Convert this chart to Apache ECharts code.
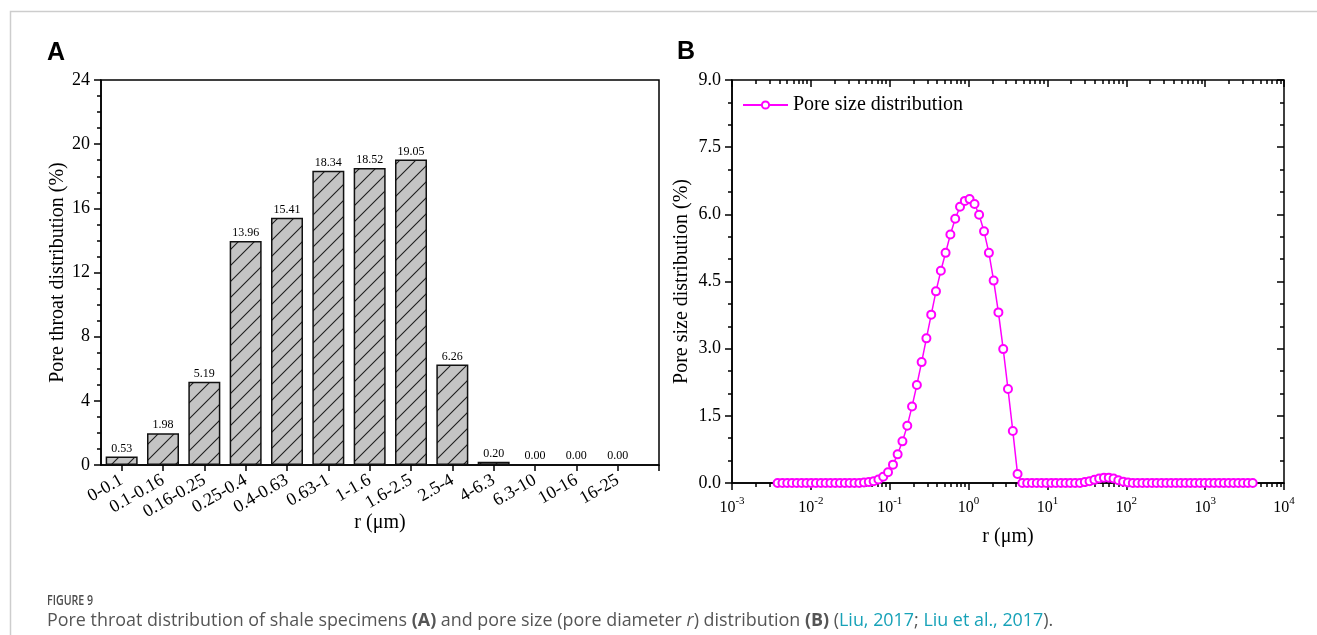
<!DOCTYPE html>
<html>
<head>
<meta charset="utf-8">
<script src="https://cdn.jsdelivr.net/npm/echarts@6/dist/echarts.min.js"></script>
<style>
  html, body { margin: 0; padding: 0; background: #fff; }
  #chart { width: 1317px; height: 635px; }
</style>
</head>
<body>
<div id="chart"></div>
<script>
// Panel A: pore throat radius classes (µm) and their share (%)
const throatClasses = ['0-0.1', '0.1-0.16', '0.16-0.25', '0.25-0.4', '0.4-0.63', '0.63-1',
  '1-1.6', '1.6-2.5', '2.5-4', '4-6.3', '6.3-10', '10-16', '16-25'];
const throatShares = [0.53, 1.98, 5.19, 13.96, 15.41, 18.34, 18.52, 19.05, 6.26, 0.20, 0.00, 0.00, 0.00];

// Panel B: pore size r (µm) and distribution (%)
const poreRadius = [
  0.00379, 0.00436, 0.00502, 0.00577, 0.00664, 0.00764, 0.00879, 0.0101, 0.0116, 0.0134,
  0.0154, 0.0177, 0.0204, 0.0234, 0.0270, 0.0310, 0.0357, 0.0411, 0.0472, 0.0543,
  0.0625, 0.0719, 0.0827, 0.0952, 0.110, 0.126, 0.145, 0.167, 0.192, 0.221,
  0.254, 0.292, 0.336, 0.386, 0.445, 0.511, 0.588, 0.677, 0.779, 0.896,
  1.03, 1.19, 1.36, 1.57, 1.81, 2.08, 2.39, 2.75, 3.16, 3.64,
  4.18, 4.81, 5.54, 6.37, 7.33, 8.43, 9.70, 11.2, 12.8, 14.8,
  17.0, 19.5, 22.5, 25.9, 29.8, 34.2, 39.4, 45.3, 52.1, 60.0,
  69.0, 79.3, 91.3, 105, 121, 139, 160, 184, 212, 243,
  280, 322, 370, 426, 490, 564, 649, 746, 859, 988,
  1136, 1307, 1504, 1730, 1990, 2289, 2634, 3029, 3485, 4009
];
const poreShare = [
  0, 0, 0, 0, 0, 0, 0, 0, 0, 0,
  0, 0, 0, 0, 0, 0, 0, 0, 0.01, 0.02,
  0.04, 0.08, 0.14, 0.24, 0.41, 0.64, 0.93, 1.28, 1.71, 2.19,
  2.70, 3.23, 3.76, 4.28, 4.74, 5.14, 5.55, 5.90, 6.17, 6.30,
  6.34, 6.23, 5.99, 5.62, 5.14, 4.52, 3.81, 2.99, 2.10, 1.16,
  0.20, 0, 0, 0, 0, 0, 0, 0, 0, 0,
  0, 0, 0, 0, 0.02, 0.04, 0.07, 0.10, 0.12, 0.12,
  0.10, 0.06, 0.03, 0.01, 0, 0, 0, 0, 0, 0,
  0, 0, 0, 0, 0, 0, 0, 0, 0, 0,
  0, 0, 0, 0, 0, 0, 0, 0, 0, 0
];

// Axis tick labels
const throatTicksY = [0, 4, 8, 12, 16, 20, 24];
const poreTicksY = [0, 1.5, 3, 4.5, 6, 7.5, 9];
const decadeExponents = [-3, -2, -1, 0, 1, 2, 3, 4];

const SERIF = '"Liberation Serif", "Times New Roman", serif';
const SANS = '"Open Sans", "Liberation Sans", sans-serif';
const AXIS_LINE = { color: '#000', width: 1.5 };

// bar slots sit in the middle of each unit on panel A's x scale
const slotPos = throatClasses.map((_, i) => i + 0.5);

// minor tick positions between decades (log10 space)
const minorLog = [];
decadeExponents.slice(0, -1).forEach(n => {
  for (let k = 2; k <= 9; k++) minorLog.push(n + Math.log10(k));
});

// diagonal hatch fill for the bars
function hatchTile() {
  const s = 16;
  const c = document.createElement('canvas');
  c.width = s; c.height = s;
  const g = c.getContext('2d');
  g.fillStyle = '#c4c4c4';
  g.fillRect(0, 0, s, s);
  g.strokeStyle = '#1e1e1e';
  g.lineWidth = 1.1;
  g.beginPath();
  g.moveTo(-2, s + 2); g.lineTo(s + 2, -2);
  g.moveTo(-2, 2); g.lineTo(2, -2);
  g.moveTo(s - 2, s + 2); g.lineTo(s + 2, s - 2);
  g.stroke();
  return c;
}

const chart = echarts.init(document.getElementById('chart'), null, { renderer: 'canvas' });

const nameStyle = { fontSize: 20, fontFamily: SERIF, color: '#000' };
const tickLabel = { fontSize: 18, fontFamily: SERIF, color: '#000' };

const option = {
  backgroundColor: '#fff',
  animation: false,
  grid: [
    { left: 101, top: 80, width: 558, height: 385, show: true, borderColor: '#000', borderWidth: 1.5, backgroundColor: 'transparent' },
    { left: 732, top: 80, width: 552, height: 403, show: true, borderColor: '#000', borderWidth: 1.5, backgroundColor: 'transparent' }
  ],
  legend: {
    data: ['Pore size distribution'],
    left: 742, top: 95, padding: 0,
    itemWidth: 45, itemHeight: 9,
    textStyle: { fontSize: 20, fontFamily: SERIF, color: '#000' }
  },
  xAxis: [
    {
      gridIndex: 0, type: 'value', min: 0, max: 13.5, position: 'bottom',
      axisLine: { show: true, onZero: false, lineStyle: AXIS_LINE },
      axisTick: { show: true, length: 6, lineStyle: AXIS_LINE, customValues: slotPos.concat([13.5]) },
      axisLabel: Object.assign({}, tickLabel, {
        customValues: slotPos, rotate: 30, margin: 14,
        formatter: v => throatClasses[Math.round(v - 0.5)]
      }),
      splitLine: { show: false },
      name: 'r (μm)', nameLocation: 'middle', nameGap: 48, nameMoveOverlap: false, nameTextStyle: nameStyle
    },
    // data scale for panel B (logarithmic)
    { gridIndex: 1, type: 'log', logBase: 10, min: 0.001, max: 10000, show: false },
    // decade ticks and labels, bottom
    {
      gridIndex: 1, type: 'value', min: -3, max: 4, interval: 1, position: 'bottom',
      axisLine: { show: true, onZero: false, lineStyle: AXIS_LINE },
      axisTick: { show: true, length: 7, lineStyle: AXIS_LINE },
      axisLabel: {
        margin: 13,
        formatter: v => '{b|10}{s|' + v + '}',
        rich: {
          b: { fontSize: 16, fontFamily: SERIF, color: '#000', lineHeight: 20, verticalAlign: 'bottom' },
          s: { fontSize: 11, fontFamily: SERIF, color: '#000', verticalAlign: 'top' }
        }
      },
      splitLine: { show: false },
      name: 'r (μm)', nameLocation: 'middle', nameGap: 44, nameTextStyle: nameStyle
    },
    // minor log ticks, bottom
    {
      gridIndex: 1, type: 'value', min: -3, max: 4, position: 'bottom',
      axisLine: { show: false, onZero: false },
      axisTick: { show: true, length: 4, lineStyle: AXIS_LINE, customValues: minorLog },
      axisLabel: { show: false }, splitLine: { show: false }
    },
    // top frame ticks
    {
      gridIndex: 1, type: 'value', min: -3, max: 4, interval: 1, position: 'top',
      axisLine: { show: false, onZero: false },
      axisTick: { show: true, inside: true, length: 7, lineStyle: AXIS_LINE },
      axisLabel: { show: false }, splitLine: { show: false }
    },
    {
      gridIndex: 1, type: 'value', min: -3, max: 4, position: 'top',
      axisLine: { show: false, onZero: false },
      axisTick: { show: true, inside: true, length: 4, lineStyle: AXIS_LINE, customValues: minorLog },
      axisLabel: { show: false }, splitLine: { show: false }
    }
  ],
  yAxis: [
    {
      gridIndex: 0, type: 'value', min: throatTicksY[0], max: throatTicksY[throatTicksY.length - 1],
      interval: throatTicksY[1] - throatTicksY[0],
      axisLine: { show: true, onZero: false, lineStyle: AXIS_LINE },
      axisTick: { show: true, length: 7, lineStyle: AXIS_LINE },
      minorTick: { show: true, splitNumber: 4, length: 4, lineStyle: AXIS_LINE },
      axisLabel: Object.assign({}, tickLabel, { margin: 11 }),
      splitLine: { show: false },
      name: 'Pore throat distribution (%)', nameLocation: 'middle', nameGap: 32, nameTextStyle: nameStyle
    },
    {
      gridIndex: 1, type: 'value', min: poreTicksY[0], max: poreTicksY[poreTicksY.length - 1],
      interval: poreTicksY[1] - poreTicksY[0], position: 'left',
      axisLine: { show: true, onZero: false, lineStyle: AXIS_LINE },
      axisTick: { show: true, length: 7, lineStyle: AXIS_LINE },
      minorTick: { show: true, splitNumber: 3, length: 4, lineStyle: AXIS_LINE },
      axisLabel: Object.assign({}, tickLabel, { margin: 11, formatter: v => v.toFixed(1) }),
      splitLine: { show: false },
      name: 'Pore size distribution (%)', nameLocation: 'middle', nameGap: 40, nameTextStyle: nameStyle
    },
    {
      gridIndex: 1, type: 'value', min: poreTicksY[0], max: poreTicksY[poreTicksY.length - 1],
      interval: poreTicksY[1] - poreTicksY[0], position: 'right',
      axisLine: { show: false, onZero: false },
      axisTick: { show: true, inside: true, length: 7, lineStyle: AXIS_LINE },
      minorTick: { show: true, splitNumber: 3, length: 4, lineStyle: AXIS_LINE },
      axisLabel: { show: false }, splitLine: { show: false }
    }
  ],
  series: [
    {
      type: 'bar', xAxisIndex: 0, yAxisIndex: 0,
      barWidth: 32,
      data: throatShares.map((v, i) => [slotPos[i], v]),
      itemStyle: { color: { image: hatchTile(), repeat: 'repeat' }, borderColor: '#111', borderWidth: 1.5 },
      label: {
        show: true, position: 'top', distance: 2,
        fontSize: 12, fontFamily: SERIF, color: '#000',
        formatter: p => p.value[1].toFixed(2)
      }
    },
    {
      type: 'line', name: 'Pore size distribution', xAxisIndex: 1, yAxisIndex: 1,
      data: poreRadius.map((r, i) => [r, poreShare[i]]),
      symbol: 'emptyCircle', symbolSize: 8, showAllSymbol: true,
      lineStyle: { color: '#ff00ff', width: 1.5 },
      itemStyle: { color: '#ff00ff', borderColor: '#ff00ff', borderWidth: 1.5 },
      z: 3
    }
  ],
  graphic: [
    {
      type: 'polyline', silent: true,
      shape: { points: [[10.5, 635], [10.5, 11.5], [1317, 11.5]] },
      style: { stroke: '#cdcdcd', lineWidth: 1.5, fill: null }
    },
    {
      type: 'text', x: 47, y: 53,
      style: { text: 'A', fontSize: 25, fontWeight: 'bold', fontFamily: '"Liberation Sans", Arial, sans-serif', fill: '#000', verticalAlign: 'middle' }
    },
    {
      type: 'text', x: 677, y: 52,
      style: { text: 'B', fontSize: 25, fontWeight: 'bold', fontFamily: '"Liberation Sans", Arial, sans-serif', fill: '#000', verticalAlign: 'middle' }
    },
    {
      type: 'text', x: 47, y: 601, scaleX: 0.76,
      style: { text: 'FIGURE 9', fontSize: 14, fontWeight: 600, fontFamily: SANS, fill: '#4d4d4d', verticalAlign: 'middle' }
    },
    {
      type: 'text', x: 47, y: 621,
      style: {
        verticalAlign: 'middle',
        text: '{n|Pore throat distribution of shale specimens }{b|(A)}{n| and pore size (pore diameter }{i|r}{n|) distribution }{b|(B)}{n| (}{c|Liu, 2017}{n|; }{c|Liu et al., 2017}{n|).}',
        rich: {
          n: { fontSize: 17.9, fontFamily: SANS, fill: '#555' },
          b: { fontSize: 17.9, fontFamily: SANS, fill: '#555', fontWeight: 'bold' },
          i: { fontSize: 17.9, fontFamily: SANS, fill: '#555', fontStyle: 'italic' },
          c: { fontSize: 17.9, fontFamily: SANS, fill: '#17a2b8' }
        }
      }
    }
  ]
};

chart.setOption(option);
</script>
</body>
</html>
